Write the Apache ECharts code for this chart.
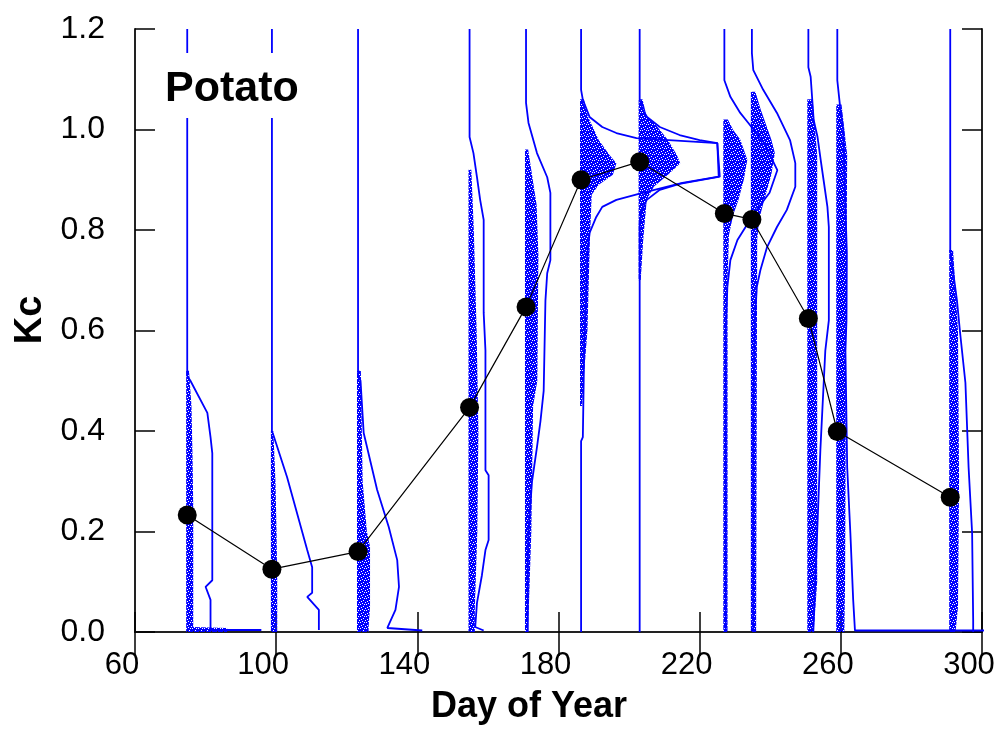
<!DOCTYPE html>
<html><head><meta charset="utf-8">
<script src="https://cdn.jsdelivr.net/npm/echarts@6/dist/echarts.min.js"></script>
<style>html,body{margin:0;padding:0;background:#fff}#c{width:1005px;height:729px}</style>
</head><body><div id="c"></div>
<script>
// Sampling days (baseline of each distribution) and mean Kc
const days = [74.8, 98.8, 123.2, 154.8, 170.8, 186.4, 203.0, 227.0, 234.8, 250.8, 259.0, 291.0];
const kcMean = [0.233, 0.125, 0.160, 0.447, 0.647, 0.900, 0.936, 0.833, 0.821, 0.624, 0.399, 0.268];
const xTickValues = [60, 100, 140, 180, 220, 260, 300];
const yTickValues = [0.0, 0.2, 0.4, 0.6, 0.8, 1.0, 1.2];

// Density outlines: [Kc, offset in days to the right of the baseline]
const outline1 = [[1.2,0],[0.51,0],[0.50,0.9],[0.436,5.7],[0.388,6.6],[0.356,7.1],[0.103,7.1],[0.09,5.2],[0.064,6.6],[0.004,6.6],[0.004,21]];
const outline2 = [[1.2,0],[0.40,0],[0.39,0.5],[0.308,4.3],[0.163,10],[0.129,11.4],[0.078,11.4],[0.07,10],[0.044,13.3],[0.004,13.3]];
const outline3 = [[1.2,0],[0.51,0],[0.50,0.7],[0.396,1.6],[0.283,5.4],[0.209,8.7],[0.143,11.1],[0.09,11.6],[0.044,10.6],[0.008,8.3],[0.003,18.2]];
const outline4 = [[1.2,0],[0.985,0],[0.953,1.1],[0.905,2.1],[0.86,3],[0.82,4],[0.635,4],[0.56,4.5],[0.322,4.5],[0.312,5.4],[0.183,5.4],[0.163,4.5],[0.113,3.5],[0.058,2.1],[0.01,1.6],[0.003,4]];
const outline5 = [[1.2,0],[1.053,0],[1.013,0.7],[0.953,3.1],[0.905,6],[0.874,6.9],[0.74,6.9],[0.714,6],[0.66,5.5],[0.48,5],[0.42,4.1],[0.368,3.1],[0.30,1.7],[0.2,0.7],[0.143,0.5],[0,0.5]];
const outline6 = [[1.2,0],[1.079,0],[1.059,0.5],[1.025,2.4],[1.005,6],[0.993,10],[0.983,15.7],[0.973,38.6],[0.906,39],[0.894,28.7],[0.874,17.4],[0.86,10],[0.846,6],[0.826,4.3],[0.794,2.4],[0.754,1.8],[0.66,1.4],[0.575,0.9],[0.388,0.5],[0.38,0],[0,0]];
const outline7 = [[1.2,0],[1.059,0],[1.039,0.9],[1.025,2.1],[1.005,5.7],[0.989,11.3],[0.979,17],[0.973,22],[0.906,22.7],[0.892,11.3],[0.88,5.7],[0.86,2],[0.834,0.4],[0.81,0],[0,0]];
const outline8 = [[1.2,0],[1.098,0],[1.065,1.7],[1.033,4.5],[1.013,6.8],[0.973,11.3],[0.919,15],[0.874,12.8],[0.834,8.5],[0.78,3.7],[0.74,1.7],[0.687,0.85],[0.6,0.4],[0,0.4]];
const outline9 = [[1.2,0],[1.152,0],[1.118,0.4],[1.079,3.2],[1.033,7.1],[0.979,10.8],[0.933,12.3],[0.886,12.3],[0.84,9.9],[0.806,7.1],[0.766,4.3],[0.72,2.4],[0.687,1.4],[0.62,0.85],[0.45,0.4],[0,0.4]];
const outline10 = [[1.2,0],[1.124,0],[1.105,0.65],[1.019,1.5],[0.985,2.6],[0.939,3.5],[0.9,4.3],[0.846,5.4],[0.806,5.8],[0.62,5.8],[0.56,4.8],[0.362,3.4],[0.163,2.3],[0,1.4]];
const outline11 = [[1.2,0],[1.098,0],[1.045,0.8],[0.999,1.7],[0.846,2.3],[0.754,2.7],[0.62,2.6],[0.56,2.3],[0.328,2.8],[0.197,3.7],[0.064,4.5],[0.003,5],[0.003,46.5]];
const outline12 = [[1.2,0],[0.76,0],[0.66,1.9],[0.595,2.8],[0.496,4.3],[0.328,5.2],[0.197,6.2],[0.024,6.5],[0,6.5]];

// Sample clouds: right edge [Kc, width in days] of the scattered samples
const cloud1 = [[0.52,0.5],[0.45,1.2],[0.35,1.5],[0.25,1.7],[0.1,1.7],[0.01,1.7],[0.008,11.3],[0,11.3]];
const cloud2 = [[0.40,0.4],[0.3,1.0],[0.2,1.3],[0.1,1.5],[0,1.5]];
const cloud3 = [[0.52,0.8],[0.3,1.3],[0.2,2.5],[0.17,3.4],[0.05,3.4],[0.01,3],[0,3]];
const cloud4 = [[0.92,0.5],[0.8,1.2],[0.6,2.0],[0.4,2.5],[0.2,2.2],[0.05,1.5],[0,1.5]];
const cloud5 = [[0.96,0.6],[0.85,3.0],[0.75,3.5],[0.5,3.2],[0.45,2.0],[0.2,1.5],[0.05,0.8],[0,0.5]];
const cloud6 = [[1.06,0.8],[1.025,2],[0.979,5],[0.95,8],[0.933,10],[0.91,9],[0.89,5],[0.87,3],[0.78,2.5],[0.6,1.8],[0.51,0.8],[0.45,0.3]];
const cloud7 = [[1.06,0.8],[1.025,2],[1.01,4.5],[0.979,8],[0.95,10.5],[0.933,11.5],[0.91,8],[0.886,4],[0.86,2],[0.78,1],[0.7,0.3]];
const cloud8 = [[1.02,1],[0.999,2.5],[0.98,4.5],[0.94,6.5],[0.9,5.5],[0.86,4],[0.83,2.5],[0.79,1.3],[0.7,0.9],[0,0.9]];
const cloud9 = [[1.075,1],[1.04,2.5],[1.01,4],[0.98,5.5],[0.953,6.5],[0.91,5.5],[0.86,3.5],[0.82,2],[0.78,1.5],[0,1.2]];
const cloud10 = [[1.06,1.2],[0.95,2.5],[0.5,2.5],[0.1,2.5],[0,1.5]];
const cloud11 = [[1.05,1.2],[0.95,2.8],[0.6,2.5],[0.1,2.2],[0,2]];
const cloud12 = [[0.76,0.8],[0.6,2.2],[0.3,2.5],[0.05,2.2],[0,1.5]];

const outlines = [outline1,outline2,outline3,outline4,outline5,outline6,outline7,outline8,outline9,outline10,outline11,outline12];
const clouds = [cloud1,cloud2,cloud3,cloud4,cloud5,cloud6,cloud7,cloud8,cloud9,cloud10,cloud11,cloud12];

const BLUE = '#0000ff';

// speckled fill pattern imitating scattered sample dots
function speckle() {
  const rows = ['111011','101111','111110','110111','011101','111111'];
  const c = document.createElement('canvas');
  c.width = 6; c.height = 6;
  const g = c.getContext('2d');
  g.fillStyle = BLUE;
  rows.forEach((r, y) => { for (let x = 0; x < r.length; x++) if (r[x] === '1') g.fillRect(x, y, 1, 1); });
  return {image: c, repeat: 'repeat'};
}
const speckleFill = speckle();

const chart = echarts.init(document.getElementById('c'), null, {renderer:'canvas'});

const outlineSeries = outlines.map((o, i) => ({
  type: 'line',
  data: o.map(([k, w]) => [days[i] + w, k]),
  symbol: 'none',
  lineStyle: {color: BLUE, width: 1.8},
  clip: false,
  silent: true,
  z: 3
}));

const cloudSeries = {
  type: 'custom',
  data: clouds.map((c, i) => [days[i], c[0][0]]),
  renderItem: (params, api) => {
    const i = params.dataIndex;
    const c = clouds[i];
    const pts = c.map(([k, w]) => api.coord([days[i] + w, k]));
    pts.push(api.coord([days[i] - 0.3, c[c.length - 1][0]]));
    pts.push(api.coord([days[i] - 0.3, c[0][0]]));
    return {type: 'polygon', shape: {points: pts}, style: {fill: speckleFill}};
  },
  silent: true,
  z: 2
};

const meanSeries = {
  type: 'line',
  data: days.map((d, i) => [d, kcMean[i]]),
  symbol: 'circle',
  symbolSize: 19,
  itemStyle: {color: '#000'},
  lineStyle: {color: '#000', width: 1.2},
  z: 10
};

const axisLineStyle = {color: '#222', width: 2};
const labelFont = {color: '#000', fontFamily: '"Liberation Sans", Arial, sans-serif'};

chart.setOption({
  animation: false,
  grid: {left: 135, right: 23, top: 29, bottom: 97, containLabel: false},
  xAxis: [
    {type: 'value', position: 'bottom', min: 60, max: 300, interval: 40,
     axisLine: {show: true, lineStyle: axisLineStyle},
     axisTick: {show: true, inside: true, length: 20, lineStyle: {color: '#000', width: 1.5}},
     axisLabel: Object.assign({fontSize: 31, margin: 18, padding: [0, 26, 0, 0],
       formatter: v => xTickValues.includes(v) ? String(v) : ''}, labelFont),
     splitLine: {show: false}},
    {type: 'value', position: 'top', min: 60, max: 300, interval: 40,
     axisLine: {show: true, lineStyle: axisLineStyle},
     axisTick: {show: true, inside: true, length: 24, lineStyle: {color: '#000', width: 1.5}},
     axisLabel: {show: false}, splitLine: {show: false}}
  ],
  yAxis: [
    {type: 'value', position: 'left', min: 0, max: 1.2, interval: 0.2,
     axisLine: {show: true, lineStyle: axisLineStyle},
     axisTick: {show: true, inside: true, length: 20, lineStyle: {color: '#000', width: 1.5}},
     axisLabel: Object.assign({fontSize: 32, margin: 30,
       formatter: v => yTickValues.some(t => Math.abs(t - v) < 1e-6) ? v.toFixed(1) : ''}, labelFont),
     splitLine: {show: false}},
    {type: 'value', position: 'right', min: 0, max: 1.2, interval: 0.2,
     axisLine: {show: true, lineStyle: axisLineStyle},
     axisTick: {show: true, inside: true, length: 20, lineStyle: {color: '#000', width: 1.5}},
     axisLabel: {show: false}, splitLine: {show: false}}
  ],
  series: [cloudSeries, ...outlineSeries, meanSeries],
  graphic: [
    {type: 'rect', left: 160, top: 53, shape: {width: 145, height: 65}, style: {fill: '#fff'}, z: 100},
    {type: 'text', left: 165, top: 68, z: 101,
     style: {text: 'Potato', font: 'bold 43px "Liberation Sans", Arial, sans-serif', fill: '#000'}},
    {type: 'text', x: 31, y: 320, rotation: Math.PI / 2, z: 101,
     style: {text: 'Kc', font: 'bold 38px "Liberation Sans", Arial, sans-serif', fill: '#000',
             textAlign: 'center', textVerticalAlign: 'middle'}},
    {type: 'text', x: 529, y: 707, z: 101,
     style: {text: 'Day of Year', font: 'bold 36px "Liberation Sans", Arial, sans-serif', fill: '#000',
             textAlign: 'center', textVerticalAlign: 'middle'}}
  ]
});
</script></body></html>
